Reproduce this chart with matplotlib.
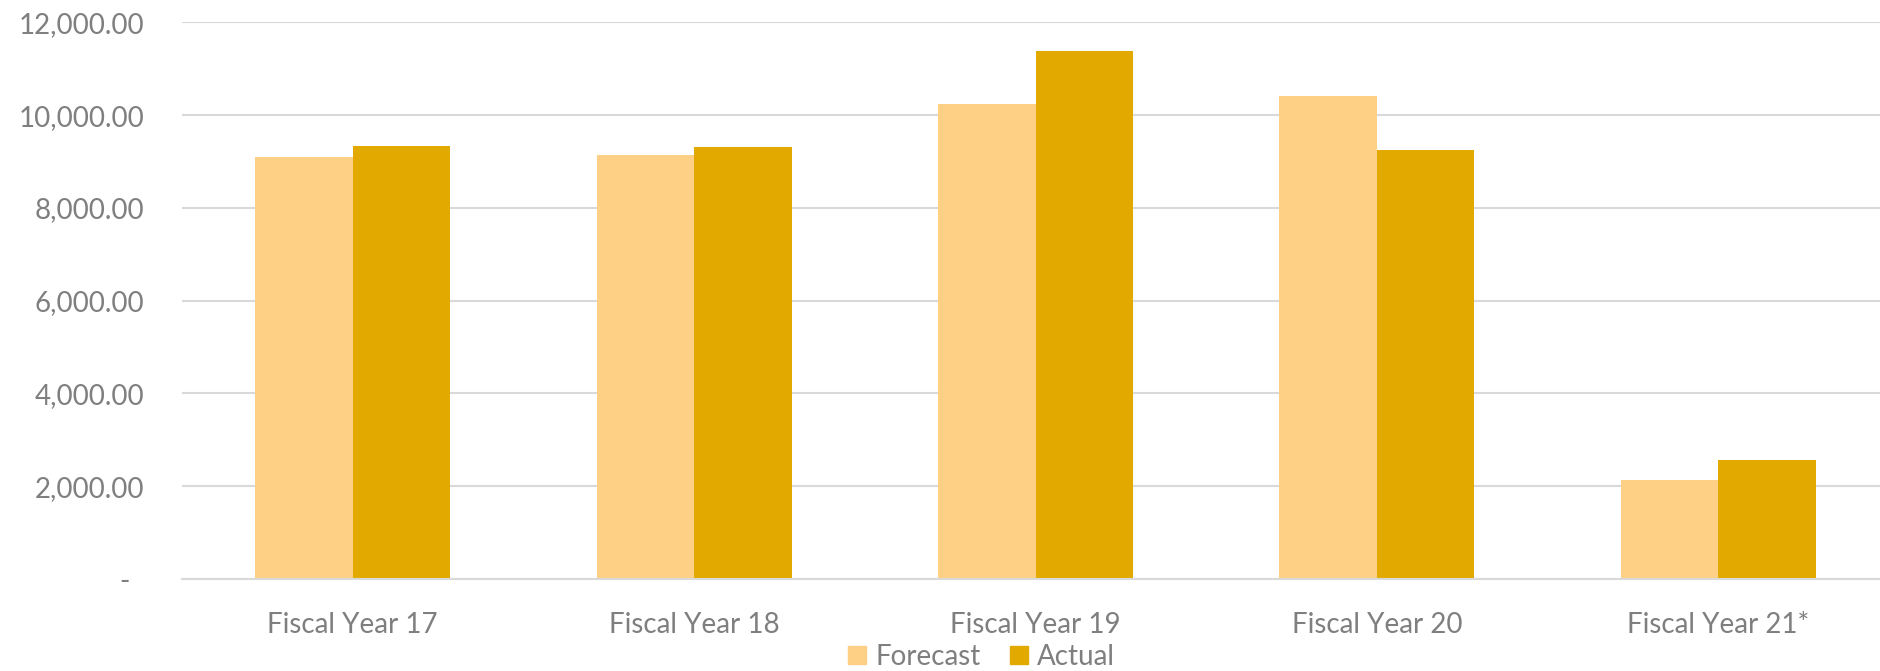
import numpy as np
import matplotlib
matplotlib.use("Agg")
import matplotlib.pyplot as plt
from matplotlib.patches import Patch

# datos
categorias = ["Fiscal Year 17", "Fiscal Year 18", "Fiscal Year 19", "Fiscal Year 20", "Fiscal Year 21*"]
forecast = [9097, 9150, 10237, 10409, 2140]
actual = [9333, 9310, 11376, 9255, 2574]
series = ["Forecast", "Actual"]
yticks = [0, 2000, 4000, 6000, 8000, 10000, 12000]

col_forecast = "#FED085"
col_actual = "#E2AA00"
gris_txt = "#7F7F7F"
gris_grid = "#D9D9D9"

plt.rcParams['font.family'] = ['Lato', 'DejaVu Sans']

fig = plt.figure(figsize=(18.8, 6.71), dpi=100)
ax = fig.add_axes([0.0968, 0.1371, 0.908, 0.8296])

x = np.arange(len(categorias))
w = 0.2855
ax.bar(x - w / 2, forecast, width=w, color=col_forecast, zorder=2)
ax.bar(x + w / 2, actual, width=w, color=col_actual, zorder=2)

ax.set_xlim(-0.5, len(categorias) - 0.5)
ax.set_ylim(0, 12000)
ax.set_yticks(yticks)
ax.set_yticklabels(["-  "] + [f"{v:,.2f}" for v in yticks[1:]])
ax.set_xticks(x)
ax.set_xticklabels(categorias)

ax.grid(axis='y', color=gris_grid, linewidth=1.5, zorder=0)
for s in ['top', 'right', 'left']:
    ax.spines[s].set_visible(False)
ax.spines['bottom'].set_color(gris_grid)
ax.spines['bottom'].set_linewidth(1.5)
ax.tick_params(axis='both', length=0, labelsize=20, labelcolor=gris_txt)
ax.tick_params(axis='y', pad=27)
ax.tick_params(axis='x', pad=24)

handles = [Patch(color=col_forecast), Patch(color=col_actual)]
fig.legend(handles, series, loc='center', bbox_to_anchor=(0.522, 0.021), ncol=2,
           frameon=False, fontsize=20, labelcolor=gris_txt, handlelength=0.65,
           handleheight=0.65, handletextpad=0.32, columnspacing=1.05)

fig.savefig("out.png", dpi=100)
